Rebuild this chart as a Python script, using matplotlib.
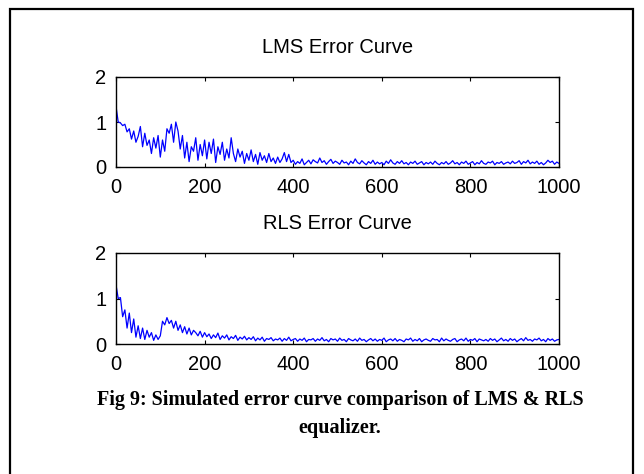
import matplotlib
matplotlib.use("Agg")
import matplotlib.pyplot as plt
from matplotlib.patches import Rectangle
import numpy as np

# sample index (every 5 iterations)
iterations = list(range(0, 1001, 5))

lms_error = [
    1.35, 1.00, 0.98, 0.92, 0.95, 0.78, 0.85, 0.62, 0.80, 0.55,
    0.68, 0.90, 0.45, 0.75, 0.48, 0.60, 0.30, 0.65, 0.42, 0.70,
    0.22, 0.60, 0.35, 0.85, 0.75, 0.95, 0.55, 1.00, 0.80, 0.40,
    0.70, 0.20, 0.55, 0.12, 0.45, 0.35, 0.65, 0.15, 0.50, 0.25,
    0.60, 0.18, 0.55, 0.30, 0.62, 0.10, 0.45, 0.28, 0.55, 0.15,
    0.40, 0.20, 0.65, 0.30, 0.12, 0.40, 0.22, 0.35, 0.08, 0.30,
    0.15, 0.38, 0.12, 0.28, 0.06, 0.32, 0.15, 0.25, 0.10, 0.30,
    0.12, 0.20, 0.08, 0.22, 0.10, 0.18, 0.32, 0.12, 0.28, 0.10,
    0.15, 0.06, 0.12, 0.08, 0.18, 0.05, 0.10, 0.15, 0.07, 0.16,
    0.12, 0.09, 0.20, 0.10, 0.14, 0.06, 0.12, 0.17, 0.08, 0.13,
    0.10, 0.06, 0.15, 0.09, 0.11, 0.05, 0.13, 0.08, 0.18, 0.10,
    0.07, 0.14, 0.09, 0.05, 0.12, 0.08, 0.15, 0.06, 0.11, 0.07,
    0.10, 0.05, 0.13, 0.08, 0.16, 0.09, 0.06, 0.12, 0.08, 0.14,
    0.07, 0.10, 0.05, 0.11, 0.08, 0.13, 0.06, 0.09, 0.12, 0.05,
    0.10, 0.07, 0.11, 0.06, 0.13, 0.08, 0.05, 0.10, 0.07, 0.12,
    0.06, 0.09, 0.14, 0.07, 0.10, 0.05, 0.11, 0.08, 0.13, 0.06,
    0.09, 0.12, 0.05, 0.10, 0.07, 0.14, 0.08, 0.06, 0.11, 0.09,
    0.13, 0.05, 0.10, 0.08, 0.12, 0.06, 0.09, 0.11, 0.07, 0.13,
    0.08, 0.10, 0.14, 0.06, 0.12, 0.09, 0.15, 0.07, 0.11, 0.08,
    0.13, 0.06, 0.10, 0.05, 0.09, 0.15, 0.10, 0.13, 0.06, 0.11,
    0.08,
]

rls_error = [
    1.30, 1.00, 1.02, 0.60, 0.75, 0.35, 0.68, 0.25, 0.55, 0.15,
    0.40, 0.12, 0.35, 0.10, 0.30, 0.15, 0.25, 0.08, 0.20, 0.10,
    0.18, 0.50, 0.42, 0.58, 0.45, 0.52, 0.35, 0.50, 0.30, 0.42,
    0.25, 0.38, 0.22, 0.35, 0.20, 0.30, 0.25, 0.18, 0.28, 0.15,
    0.25, 0.16, 0.22, 0.12, 0.20, 0.14, 0.24, 0.10, 0.18, 0.13,
    0.20, 0.09, 0.16, 0.12, 0.19, 0.08, 0.15, 0.11, 0.17, 0.09,
    0.14, 0.10, 0.16, 0.07, 0.13, 0.09, 0.15, 0.06, 0.12, 0.10,
    0.14, 0.07, 0.11, 0.09, 0.13, 0.06, 0.12, 0.08, 0.15, 0.07,
    0.10, 0.12, 0.06, 0.11, 0.08, 0.13, 0.05, 0.10, 0.09, 0.12,
    0.06, 0.11, 0.08, 0.14, 0.07, 0.10, 0.05, 0.12, 0.09, 0.11,
    0.06, 0.13, 0.08, 0.10, 0.05, 0.12, 0.09, 0.07, 0.11, 0.06,
    0.13, 0.08, 0.10, 0.05, 0.09, 0.12, 0.07, 0.11, 0.06, 0.10,
    0.08, 0.13, 0.05, 0.09, 0.11, 0.07, 0.12, 0.06, 0.10, 0.08,
    0.05, 0.11, 0.09, 0.13, 0.06, 0.10, 0.07, 0.12, 0.05, 0.09,
    0.11, 0.08, 0.06, 0.12, 0.09, 0.10, 0.05, 0.13, 0.07, 0.11,
    0.08, 0.06, 0.10, 0.12, 0.05, 0.09, 0.11, 0.07, 0.13, 0.06,
    0.10, 0.08, 0.12, 0.05, 0.11, 0.09, 0.07, 0.10, 0.06, 0.12,
    0.08, 0.11, 0.05, 0.09, 0.13, 0.07, 0.10, 0.06, 0.12, 0.08,
    0.11, 0.05, 0.09, 0.12, 0.07, 0.14, 0.08, 0.10, 0.06, 0.11,
    0.09, 0.13, 0.07, 0.10, 0.05, 0.12, 0.08, 0.11, 0.06, 0.09,
    0.10,
]

titles = ["LMS Error Curve", "RLS Error Curve"]
x_ticks = [0, 200, 400, 600, 800, 1000]
y_ticks = [0, 1, 2]
caption = "Fig 9: Simulated error curve comparison of LMS & RLS\nequalizer."

W, H = 644, 474
fig = plt.figure(figsize=(W / 100, H / 100), dpi=100)
fig.patch.set_facecolor("white")

axfont = ["Liberation Sans Narrow", "Liberation Sans", "DejaVu Sans"]

def px_rect(left, top, right, bottom):
    return [left / W, 1 - bottom / H, (right - left) / W, (bottom - top) / H]

boxes = [px_rect(116, 77, 559, 167), px_rect(116, 253, 559, 344)]
series = [lms_error, rls_error]

for box, data, title in zip(boxes, series, titles):
    ax = fig.add_axes(box)
    ax.plot(iterations, data, color="#0000ff", linewidth=0.9)
    ax.set_xlim(0, 1000)
    ax.set_ylim(0, 2)
    ax.set_xticks(x_ticks)
    ax.set_yticks(y_ticks)
    ax.tick_params(direction="in", length=3, width=0.8, top=True, right=True,
                   labelsize=14.5, colors="black")
    ax.tick_params(axis="x", pad=8)
    ax.tick_params(axis="y", pad=7)
    for lab in ax.get_xticklabels() + ax.get_yticklabels():
        lab.set_family(axfont)
    for sp in ax.spines.values():
        sp.set_linewidth(1.0)
    ax.set_title(title, fontsize=14.5, family=axfont, pad=17)

fig.text(340 / W, 1 - 414 / H, caption, ha="center", va="center",
         fontsize=14.5, fontweight="bold", family=["Liberation Serif", "DejaVu Serif"],
         linespacing=1.5, multialignment="center")

# outer frame
fig.patches.append(Rectangle((10 / W, -0.05), 623 / W, 1 - 9 / H + 0.05,
                             transform=fig.transFigure, fill=False,
                             edgecolor="black", linewidth=1.6))

fig.savefig("out.png", dpi=100)
